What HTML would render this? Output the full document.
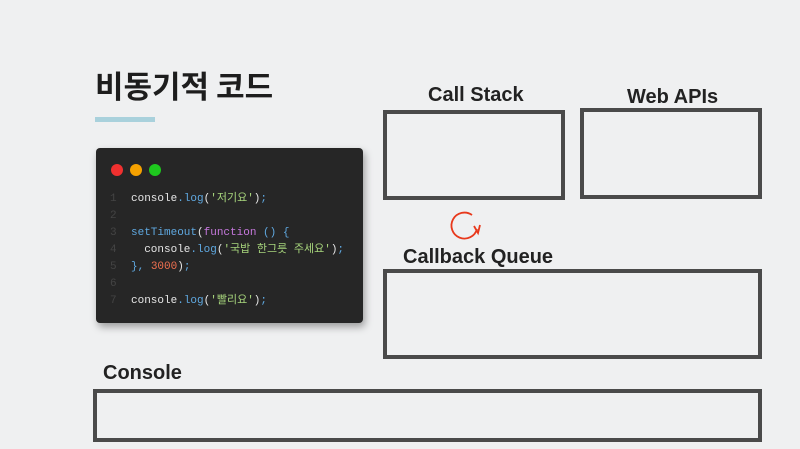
<!DOCTYPE html>
<html><head><meta charset="utf-8"><style>
body{margin:0;width:800px;height:449px;background:#eff0f1;position:relative;overflow:hidden;font-family:"Liberation Sans","Noto Sans CJK KR",sans-serif;}
.a{position:absolute;}
.box{position:absolute;border:4px solid #4a4a4a;box-sizing:border-box;}
.lbl{position:absolute;font-weight:bold;font-size:20px;color:#222;white-space:nowrap;}
.code{position:absolute;left:96px;top:148px;width:267px;height:175px;background:#262626;border-radius:4px;box-shadow:2px 4px 8px rgba(0,0,0,.35);}
.dot{position:absolute;top:16px;width:12px;height:12px;border-radius:50%;}
.ln,.cd{position:absolute;height:16px;line-height:16px;font-family:"Liberation Mono","Noto Sans CJK KR",monospace;font-size:11px;}
.ln{left:14px;color:#444;}
.cd{left:35px;color:#e6e6e6;white-space:pre;}
.b{color:#5fa8e0}.s{color:#a7d57c}.p{color:#c678dd}.n{color:#f07050}
</style></head><body>
<div class="a" style="left:95px;top:62px;font-size:31px;font-weight:bold;color:#1d1d1d;font-family:'Noto Sans CJK KR',sans-serif;">비동기적 코드</div>
<div class="a" style="left:95px;top:117px;width:60px;height:5px;background:#a9d1dc;"></div>
<div class="code">
<div class="dot" style="left:15px;background:#f0302f"></div>
<div class="dot" style="left:34px;background:#f5a100"></div>
<div class="dot" style="left:53px;background:#1ec81e"></div>
<div class="ln" style="top:43px">1</div><div class="cd" style="top:43px">console<span class="b">.log</span>(<span class="s">'저기요'</span>)<span class="b">;</span></div>
<div class="ln" style="top:60px">2</div>
<div class="ln" style="top:77px">3</div><div class="cd" style="top:77px"><span class="b">setTimeout</span>(<span class="p">function</span> <span class="b">() {</span></div>
<div class="ln" style="top:94px">4</div><div class="cd" style="top:94px">  console<span class="b">.log</span>(<span class="s">'국밥 한그릇 주세요'</span>)<span class="b">;</span></div>
<div class="ln" style="top:111px">5</div><div class="cd" style="top:111px"><span class="b">},</span> <span class="n">3000</span>)<span class="b">;</span></div>
<div class="ln" style="top:128px">6</div>
<div class="ln" style="top:145px">7</div><div class="cd" style="top:145px">console<span class="b">.log</span>(<span class="s">'빨리요'</span>)<span class="b">;</span></div>
</div>
<div class="lbl" style="left:428px;top:84px">Call Stack</div>
<div class="lbl" style="left:627px;top:86px">Web APIs</div>
<div class="lbl" style="left:403px;top:246px">Callback Queue</div>
<div class="lbl" style="left:103px;top:362px">Console</div>
<div class="box" style="left:383px;top:110px;width:182px;height:90px"></div>
<div class="box" style="left:580px;top:108px;width:182px;height:91px"></div>
<div class="box" style="left:383px;top:269px;width:379px;height:90px"></div>
<div class="box" style="left:93px;top:389px;width:669px;height:53px"></div>
<svg class="a" style="left:445px;top:205px" width="40" height="40" viewBox="0 0 40 40">
<path d="M27 10 A13 13 0 1 0 32 24" fill="none" stroke="#e8391c" stroke-width="1.8"/>
<path d="M29 21 L33 28 L35 20" fill="none" stroke="#e8391c" stroke-width="1.8"/>
</svg>
</body></html>
